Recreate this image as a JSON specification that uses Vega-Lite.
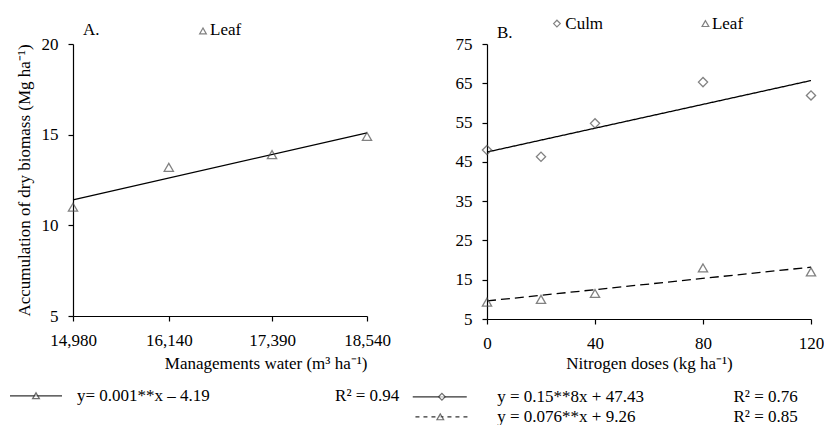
{
  "$schema": "https://vega.github.io/schema/vega-lite/v6.json",
  "background": "white",
  "padding": {"left": 9, "top": 14, "right": 0, "bottom": 0},
  "bounds": "flush",
  "spacing": 120,
  "config": {
    "view": {"stroke": null},
    "font": "Liberation Serif",
    "axis": {
      "grid": false,
      "domainColor": "#000000",
      "tickColor": "#000000",
      "labelColor": "#000000",
      "titleColor": "#000000",
      "labelFont": "Liberation Serif",
      "titleFont": "Liberation Serif",
      "labelFontSize": 17,
      "titleFontSize": 17,
      "titleFontWeight": "normal",
      "tickSize": 5,
      "domainWidth": 1.2,
      "tickWidth": 1.2,
      "labelOverlap": false,
      "labelFlush": false
    },
    "text": {"font": "Liberation Serif", "fontSize": 17, "color": "#000000"}
  },
  "datasets": {
    "waterLeaf": [
      {"water": 14980, "biomass": 11.0},
      {"water": 16140, "biomass": 13.2},
      {"water": 17390, "biomass": 13.9},
      {"water": 18540, "biomass": 14.9}
    ],
    "waterFit": [
      {"water": 14980, "biomass": 11.4},
      {"water": 18540, "biomass": 15.1}
    ],
    "nitro": [
      {"dose": 0, "organ": "Culm", "biomass": 48.0},
      {"dose": 20, "organ": "Culm", "biomass": 46.3},
      {"dose": 40, "organ": "Culm", "biomass": 54.8},
      {"dose": 80, "organ": "Culm", "biomass": 65.3},
      {"dose": 120, "organ": "Culm", "biomass": 61.9},
      {"dose": 0, "organ": "Leaf", "biomass": 9.3},
      {"dose": 20, "organ": "Leaf", "biomass": 10.0},
      {"dose": 40, "organ": "Leaf", "biomass": 11.5},
      {"dose": 80, "organ": "Leaf", "biomass": 18.0},
      {"dose": 120, "organ": "Leaf", "biomass": 17.0}
    ],
    "nitroFit": [
      {"dose": 0, "organ": "Culm", "biomass": 47.5},
      {"dose": 120, "organ": "Culm", "biomass": 65.7},
      {"dose": 0, "organ": "Leaf", "biomass": 9.6},
      {"dose": 120, "organ": "Leaf", "biomass": 18.2}
    ],
    "one": [{}]
  },
  "hconcat": [
    {
      "width": 294,
      "height": 272,
      "layer": [
        {
          "data": {"name": "waterFit"},
          "mark": {"type": "line", "color": "#000000", "strokeWidth": 1.3},
          "encoding": {
            "x": {"field": "water", "type": "quantitative", "scale": {"domain": [14980, 18540], "nice": false, "zero": false},
              "axis": {"values": [14980, 16140, 17390, 18540], "format": ",.0f", "labelPadding": 11, "title": "Managements water (m³ ha⁻¹)", "titleAnchor": "end", "titlePadding": 7}},
            "y": {"field": "biomass", "type": "quantitative", "scale": {"domain": [5, 20], "nice": false, "zero": false},
              "axis": {"values": [5, 10, 15, 20], "labelPadding": 10, "title": "Accumulation of dry biomass (Mg ha⁻¹)", "titlePadding": 8}}
          }
        },
        {
          "data": {"name": "waterLeaf"},
          "mark": {"type": "point", "shape": "triangle-up", "filled": false, "stroke": "#4d4d4d", "strokeWidth": 1.3, "size": 85},
          "encoding": {
            "x": {"field": "water", "type": "quantitative",
              "axis": {"values": [14980, 16140, 17390, 18540], "format": ",.0f", "labelPadding": 11, "title": "Managements water (m³ ha⁻¹)", "titleAnchor": "end", "titlePadding": 7}},
            "y": {"field": "biomass", "type": "quantitative",
              "axis": {"values": [5, 10, 15, 20], "labelPadding": 10, "title": "Accumulation of dry biomass (Mg ha⁻¹)", "titlePadding": 8}}
          }
        },
        {
          "data": {"name": "one"},
          "mark": {"type": "text", "text": "A.", "align": "left", "baseline": "middle"},
          "encoding": {
            "x": {"datum": 15101, "type": "quantitative",
              "axis": {"values": [14980, 16140, 17390, 18540], "format": ",.0f", "labelPadding": 11, "title": "Managements water (m³ ha⁻¹)", "titleAnchor": "end", "titlePadding": 7}},
            "y": {"datum": 20.77, "type": "quantitative",
              "axis": {"values": [5, 10, 15, 20], "labelPadding": 10, "title": "Accumulation of dry biomass (Mg ha⁻¹)", "titlePadding": 8}}
          }
        },
        {
          "data": {"name": "one"},
          "mark": {"type": "point", "shape": "triangle-up", "filled": false, "stroke": "#4d4d4d", "strokeWidth": 1.2, "size": 45},
          "encoding": {
            "x": {"datum": 16554, "type": "quantitative",
              "axis": {"values": [14980, 16140, 17390, 18540], "format": ",.0f", "labelPadding": 11, "title": "Managements water (m³ ha⁻¹)", "titleAnchor": "end", "titlePadding": 7}},
            "y": {"datum": 20.72, "type": "quantitative",
              "axis": {"values": [5, 10, 15, 20], "labelPadding": 10, "title": "Accumulation of dry biomass (Mg ha⁻¹)", "titlePadding": 8}}
          }
        },
        {
          "data": {"name": "one"},
          "mark": {"type": "text", "text": "Leaf", "align": "left", "baseline": "middle"},
          "encoding": {
            "x": {"datum": 16639, "type": "quantitative",
              "axis": {"values": [14980, 16140, 17390, 18540], "format": ",.0f", "labelPadding": 11, "title": "Managements water (m³ ha⁻¹)", "titleAnchor": "end", "titlePadding": 7}},
            "y": {"datum": 20.77, "type": "quantitative",
              "axis": {"values": [5, 10, 15, 20], "labelPadding": 10, "title": "Accumulation of dry biomass (Mg ha⁻¹)", "titlePadding": 8}}
          }
        },
        {
          "data": {"name": "one"},
          "mark": {"type": "rule", "color": "#333333", "strokeWidth": 1.3},
          "encoding": {
            "x": {"datum": 14217, "type": "quantitative",
              "axis": {"values": [14980, 16140, 17390, 18540], "format": ",.0f", "labelPadding": 11, "title": "Managements water (m³ ha⁻¹)", "titleAnchor": "end", "titlePadding": 7}},
            "x2": {"datum": 14847},
            "y": {"datum": 0.6, "type": "quantitative",
              "axis": {"values": [5, 10, 15, 20], "labelPadding": 10, "title": "Accumulation of dry biomass (Mg ha⁻¹)", "titlePadding": 8}}
          }
        },
        {
          "data": {"name": "one"},
          "mark": {"type": "point", "shape": "triangle-up", "filled": true, "fill": "white", "stroke": "#333333", "strokeWidth": 1.3, "size": 45},
          "encoding": {
            "x": {"datum": 14532, "type": "quantitative",
              "axis": {"values": [14980, 16140, 17390, 18540], "format": ",.0f", "labelPadding": 11, "title": "Managements water (m³ ha⁻¹)", "titleAnchor": "end", "titlePadding": 7}},
            "y": {"datum": 0.6, "type": "quantitative",
              "axis": {"values": [5, 10, 15, 20], "labelPadding": 10, "title": "Accumulation of dry biomass (Mg ha⁻¹)", "titlePadding": 8}}
          }
        },
        {
          "data": {"name": "one"},
          "mark": {"type": "text", "text": "y= 0.001**x – 4.19", "align": "left", "baseline": "middle"},
          "encoding": {
            "x": {"datum": 15028, "type": "quantitative",
              "axis": {"values": [14980, 16140, 17390, 18540], "format": ",.0f", "labelPadding": 11, "title": "Managements water (m³ ha⁻¹)", "titleAnchor": "end", "titlePadding": 7}},
            "y": {"datum": 0.6, "type": "quantitative",
              "axis": {"values": [5, 10, 15, 20], "labelPadding": 10, "title": "Accumulation of dry biomass (Mg ha⁻¹)", "titlePadding": 8}}
          }
        },
        {
          "data": {"name": "one"},
          "mark": {"type": "text", "text": "R² = 0.94", "align": "left", "baseline": "middle"},
          "encoding": {
            "x": {"datum": 18153, "type": "quantitative",
              "axis": {"values": [14980, 16140, 17390, 18540], "format": ",.0f", "labelPadding": 11, "title": "Managements water (m³ ha⁻¹)", "titleAnchor": "end", "titlePadding": 7}},
            "y": {"datum": 0.6, "type": "quantitative",
              "axis": {"values": [5, 10, 15, 20], "labelPadding": 10, "title": "Accumulation of dry biomass (Mg ha⁻¹)", "titlePadding": 8}}
          }
        }
      ]
    },
    {
      "width": 324,
      "height": 275,
      "layer": [
        {
          "data": {"name": "nitroFit"},
          "mark": {"type": "line", "color": "#000000", "strokeWidth": 1.3},
          "encoding": {
            "x": {"field": "dose", "type": "quantitative", "scale": {"domain": [0, 120], "nice": false},
              "axis": {"values": [0, 40, 80, 120], "labelPadding": 11, "title": "Nitrogen doses (kg ha⁻¹)", "titlePadding": 4}},
            "y": {"field": "biomass", "type": "quantitative", "scale": {"domain": [5, 75], "nice": false, "zero": false},
              "axis": {"values": [5, 15, 25, 35, 45, 55, 65, 75], "labelPadding": 10, "title": null}},
            "detail": {"field": "organ"},
            "strokeDash": {"field": "organ", "type": "nominal", "scale": {"domain": ["Culm", "Leaf"], "range": [[1, 0], [9, 5]]}, "legend": null}
          }
        },
        {
          "data": {"name": "nitro"},
          "mark": {"type": "point", "filled": false, "stroke": "#4d4d4d", "strokeWidth": 1.3, "size": 85},
          "encoding": {
            "x": {"field": "dose", "type": "quantitative",
              "axis": {"values": [0, 40, 80, 120], "labelPadding": 11, "title": "Nitrogen doses (kg ha⁻¹)", "titlePadding": 4}},
            "y": {"field": "biomass", "type": "quantitative",
              "axis": {"values": [5, 15, 25, 35, 45, 55, 65, 75], "labelPadding": 10, "title": null}},
            "shape": {"field": "organ", "type": "nominal", "scale": {"domain": ["Culm", "Leaf"], "range": ["diamond", "triangle-up"]}, "legend": null}
          }
        },
        {
          "data": {"name": "one"},
          "mark": {"type": "text", "text": "B.", "align": "left", "baseline": "middle"},
          "encoding": {
            "x": {"datum": 3.7, "type": "quantitative",
              "axis": {"values": [0, 40, 80, 120], "labelPadding": 11, "title": "Nitrogen doses (kg ha⁻¹)", "titlePadding": 4}},
            "y": {"datum": 77.8, "type": "quantitative",
              "axis": {"values": [5, 15, 25, 35, 45, 55, 65, 75], "labelPadding": 10, "title": null}}
          }
        },
        {
          "data": {"name": "one"},
          "mark": {"type": "point", "shape": "diamond", "filled": false, "stroke": "#4d4d4d", "strokeWidth": 1.2, "size": 45},
          "encoding": {
            "x": {"datum": 25.9, "type": "quantitative",
              "axis": {"values": [0, 40, 80, 120], "labelPadding": 11, "title": "Nitrogen doses (kg ha⁻¹)", "titlePadding": 4}},
            "y": {"datum": 80.2, "type": "quantitative",
              "axis": {"values": [5, 15, 25, 35, 45, 55, 65, 75], "labelPadding": 10, "title": null}}
          }
        },
        {
          "data": {"name": "one"},
          "mark": {"type": "text", "text": "Culm", "align": "left", "baseline": "middle"},
          "encoding": {
            "x": {"datum": 29.0, "type": "quantitative",
              "axis": {"values": [0, 40, 80, 120], "labelPadding": 11, "title": "Nitrogen doses (kg ha⁻¹)", "titlePadding": 4}},
            "y": {"datum": 80.2, "type": "quantitative",
              "axis": {"values": [5, 15, 25, 35, 45, 55, 65, 75], "labelPadding": 10, "title": null}}
          }
        },
        {
          "data": {"name": "one"},
          "mark": {"type": "point", "shape": "triangle-up", "filled": false, "stroke": "#4d4d4d", "strokeWidth": 1.2, "size": 45},
          "encoding": {
            "x": {"datum": 80.9, "type": "quantitative",
              "axis": {"values": [0, 40, 80, 120], "labelPadding": 11, "title": "Nitrogen doses (kg ha⁻¹)", "titlePadding": 4}},
            "y": {"datum": 80.2, "type": "quantitative",
              "axis": {"values": [5, 15, 25, 35, 45, 55, 65, 75], "labelPadding": 10, "title": null}}
          }
        },
        {
          "data": {"name": "one"},
          "mark": {"type": "text", "text": "Leaf", "align": "left", "baseline": "middle"},
          "encoding": {
            "x": {"datum": 83.3, "type": "quantitative",
              "axis": {"values": [0, 40, 80, 120], "labelPadding": 11, "title": "Nitrogen doses (kg ha⁻¹)", "titlePadding": 4}},
            "y": {"datum": 80.2, "type": "quantitative",
              "axis": {"values": [5, 15, 25, 35, 45, 55, 65, 75], "labelPadding": 10, "title": null}}
          }
        },
        {
          "data": {"name": "one"},
          "mark": {"type": "rule", "color": "#333333", "strokeWidth": 1.3},
          "encoding": {
            "x": {"datum": -27.5, "type": "quantitative",
              "axis": {"values": [0, 40, 80, 120], "labelPadding": 11, "title": "Nitrogen doses (kg ha⁻¹)", "titlePadding": 4}},
            "x2": {"datum": -7.5},
            "y": {"datum": -14.8, "type": "quantitative",
              "axis": {"values": [5, 15, 25, 35, 45, 55, 65, 75], "labelPadding": 10, "title": null}}
          }
        },
        {
          "data": {"name": "one"},
          "mark": {"type": "point", "shape": "diamond", "filled": true, "fill": "white", "stroke": "#333333", "strokeWidth": 1.2, "size": 45},
          "encoding": {
            "x": {"datum": -16.7, "type": "quantitative",
              "axis": {"values": [0, 40, 80, 120], "labelPadding": 11, "title": "Nitrogen doses (kg ha⁻¹)", "titlePadding": 4}},
            "y": {"datum": -14.8, "type": "quantitative",
              "axis": {"values": [5, 15, 25, 35, 45, 55, 65, 75], "labelPadding": 10, "title": null}}
          }
        },
        {
          "data": {"name": "one"},
          "mark": {"type": "text", "text": "y = 0.15**8x + 47.43", "align": "left", "baseline": "middle"},
          "encoding": {
            "x": {"datum": 3.8, "type": "quantitative",
              "axis": {"values": [0, 40, 80, 120], "labelPadding": 11, "title": "Nitrogen doses (kg ha⁻¹)", "titlePadding": 4}},
            "y": {"datum": -14.8, "type": "quantitative",
              "axis": {"values": [5, 15, 25, 35, 45, 55, 65, 75], "labelPadding": 10, "title": null}}
          }
        },
        {
          "data": {"name": "one"},
          "mark": {"type": "text", "text": "R² = 0.76", "align": "left", "baseline": "middle"},
          "encoding": {
            "x": {"datum": 91.3, "type": "quantitative",
              "axis": {"values": [0, 40, 80, 120], "labelPadding": 11, "title": "Nitrogen doses (kg ha⁻¹)", "titlePadding": 4}},
            "y": {"datum": -14.8, "type": "quantitative",
              "axis": {"values": [5, 15, 25, 35, 45, 55, 65, 75], "labelPadding": 10, "title": null}}
          }
        },
        {
          "data": {"name": "one"},
          "mark": {"type": "rule", "color": "#333333", "strokeWidth": 1.3, "strokeDash": [4, 4]},
          "encoding": {
            "x": {"datum": -26.5, "type": "quantitative",
              "axis": {"values": [0, 40, 80, 120], "labelPadding": 11, "title": "Nitrogen doses (kg ha⁻¹)", "titlePadding": 4}},
            "x2": {"datum": -7.0},
            "y": {"datum": -19.9, "type": "quantitative",
              "axis": {"values": [5, 15, 25, 35, 45, 55, 65, 75], "labelPadding": 10, "title": null}}
          }
        },
        {
          "data": {"name": "one"},
          "mark": {"type": "point", "shape": "triangle-up", "filled": true, "fill": "white", "stroke": "#333333", "strokeWidth": 1.2, "size": 45},
          "encoding": {
            "x": {"datum": -17.3, "type": "quantitative",
              "axis": {"values": [0, 40, 80, 120], "labelPadding": 11, "title": "Nitrogen doses (kg ha⁻¹)", "titlePadding": 4}},
            "y": {"datum": -19.9, "type": "quantitative",
              "axis": {"values": [5, 15, 25, 35, 45, 55, 65, 75], "labelPadding": 10, "title": null}}
          }
        },
        {
          "data": {"name": "one"},
          "mark": {"type": "text", "text": "y = 0.076**x + 9.26", "align": "left", "baseline": "middle"},
          "encoding": {
            "x": {"datum": 3.8, "type": "quantitative",
              "axis": {"values": [0, 40, 80, 120], "labelPadding": 11, "title": "Nitrogen doses (kg ha⁻¹)", "titlePadding": 4}},
            "y": {"datum": -19.9, "type": "quantitative",
              "axis": {"values": [5, 15, 25, 35, 45, 55, 65, 75], "labelPadding": 10, "title": null}}
          }
        },
        {
          "data": {"name": "one"},
          "mark": {"type": "text", "text": "R² = 0.85", "align": "left", "baseline": "middle"},
          "encoding": {
            "x": {"datum": 91.3, "type": "quantitative",
              "axis": {"values": [0, 40, 80, 120], "labelPadding": 11, "title": "Nitrogen doses (kg ha⁻¹)", "titlePadding": 4}},
            "y": {"datum": -19.9, "type": "quantitative",
              "axis": {"values": [5, 15, 25, 35, 45, 55, 65, 75], "labelPadding": 10, "title": null}}
          }
        }
      ]
    }
  ]
}
